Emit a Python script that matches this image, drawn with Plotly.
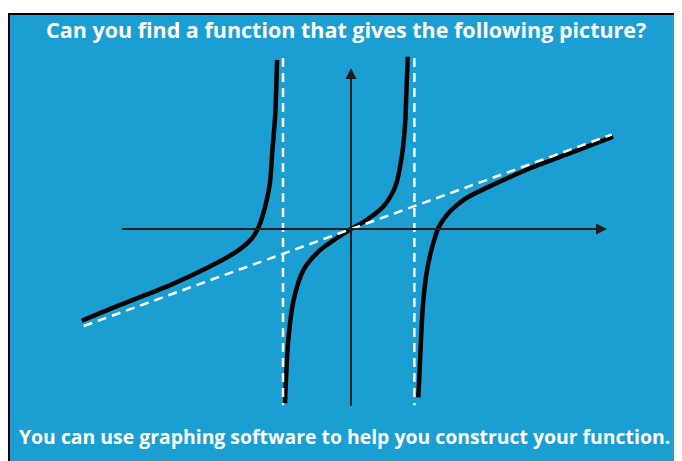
import plotly.graph_objects as go

# curve branches (x, y in graph units)
left_x = [-4.08, -3.50, -2.74, -2.14, -1.73, -1.50, -1.40, -1.30, -1.23, -1.19, -1.15, -1.13, -1.12]
left_y = [-1.39, -1.15, -0.85, -0.57, -0.34, -0.14, 0.03, 0.34, 0.69, 1.20, 1.70, 2.21, 2.56]

mid_x = [-1.00, -0.95, -0.87, -0.72, -0.47, -0.22, 0.0, 0.24, 0.49, 0.67, 0.77, 0.82, 0.84, 0.86]
mid_y = [-2.64, -1.68, -1.08, -0.62, -0.32, -0.14, 0.0, 0.14, 0.34, 0.64, 1.10, 1.60, 2.11, 2.61]

right_x = [1.02, 1.04, 1.06, 1.09, 1.14, 1.20, 1.26, 1.32, 1.45, 1.59, 1.75, 2.26, 2.76, 3.37, 3.97]
right_y = [-2.55, -2.14, -1.68, -1.15, -0.70, -0.39, -0.17, 0.01, 0.21, 0.35, 0.47, 0.72, 0.94, 1.17, 1.40]

# asymptotes
vert_asym_x = [-1.03, 0.96]
vert_asym_y = [2.59, -2.67]
oblique_x = [-4.05, 3.95]
oblique_y = [-1.47, 1.43]

# axes extent
xaxis_ends = [-3.49, 3.88]
yaxis_ends = [-2.70, 2.44]

title_text = "Can you find a function that gives the following picture?"
footer_text = "You can use graphing software to help you construct your function."

# page layout, in window pixels (page body adds an 8px offset)
BODY = 8
W, H = 682, 461
LEFT, TOP = 10, 15
UNIT = 66.0
ORIGIN = (351, 229)
BLUE = "#1b9fd3"

PW, PH = W - LEFT, H - TOP  # plot area size
x_range = [(LEFT - ORIGIN[0]) / UNIT, (W - ORIGIN[0]) / UNIT]
y_range = [(ORIGIN[1] - H) / UNIT, (ORIGIN[1] - TOP) / UNIT]

fig = go.Figure()

for bx, by in [(left_x, left_y), (mid_x, mid_y), (right_x, right_y)]:
    fig.add_trace(go.Scatter(
        x=bx, y=by, mode='lines',
        line=dict(color='black', width=4.5, shape='spline', smoothing=0.8),
        hoverinfo='none'
    ))

for ax_ in vert_asym_x:
    fig.add_trace(go.Scatter(
        x=[ax_, ax_], y=vert_asym_y, mode='lines',
        line=dict(color='white', width=2.5, dash='9px,6px'),
        hoverinfo='none'
    ))

fig.add_trace(go.Scatter(
    x=oblique_x, y=oblique_y, mode='lines',
    line=dict(color='white', width=2.5, dash='9px,6px'),
    hoverinfo='none'
))

# axes with arrowheads
axis_arrows = [
    dict(x=xaxis_ends[1], y=0, ax=xaxis_ends[0], ay=0),
    dict(x=0, y=yaxis_ends[1], ax=0, ay=yaxis_ends[0]),
]
annotations = []
for a in axis_arrows:
    annotations.append(dict(
        x=a['x'], y=a['y'], ax=a['ax'], ay=a['ay'],
        xref='x', yref='y', axref='x', ayref='y',
        text='', showarrow=True, arrowhead=2, arrowsize=1.1,
        arrowwidth=2, arrowcolor='#1e1e1e', standoff=0
    ))

annotations.append(dict(
    text=title_text, x=(346 - LEFT) / PW, y=1 - (30 - TOP) / PH,
    xref='paper', yref='paper', showarrow=False,
    xanchor='center', yanchor='middle',
    font=dict(family='Open Sans', size=21.5, color='white', weight='bold')
))
annotations.append(dict(
    text=footer_text, x=(344 - LEFT) / PW, y=1 - (436 - TOP) / PH,
    xref='paper', yref='paper', showarrow=False,
    xanchor='center', yanchor='middle',
    font=dict(family='Open Sans', size=19.4, color='white', weight='bold')
))

# black frame on top and left
shapes = [
    dict(type='line', xref='paper', yref='paper', x0=-1 / PW, x1=-1 / PW,
         y0=-0.05, y1=1 + 2 / PH, line=dict(color='black', width=2)),
    dict(type='line', xref='paper', yref='paper', x0=-2 / PW, x1=1.05,
         y0=1 + 1 / PH, y1=1 + 1 / PH, line=dict(color='black', width=2)),
]

# figure is sized a little past the window so the blue reaches the edges
fig.update_layout(
    width=W - BODY + 8, height=H - BODY + 8,
    margin=dict(l=LEFT - BODY, r=8, t=TOP - BODY, b=8, pad=0),
    paper_bgcolor='white', plot_bgcolor=BLUE,
    showlegend=False,
    xaxis=dict(range=x_range, visible=False, fixedrange=True),
    yaxis=dict(range=y_range, visible=False, fixedrange=True),
    annotations=annotations, shapes=shapes,
)

fig.write_html("out.html")
